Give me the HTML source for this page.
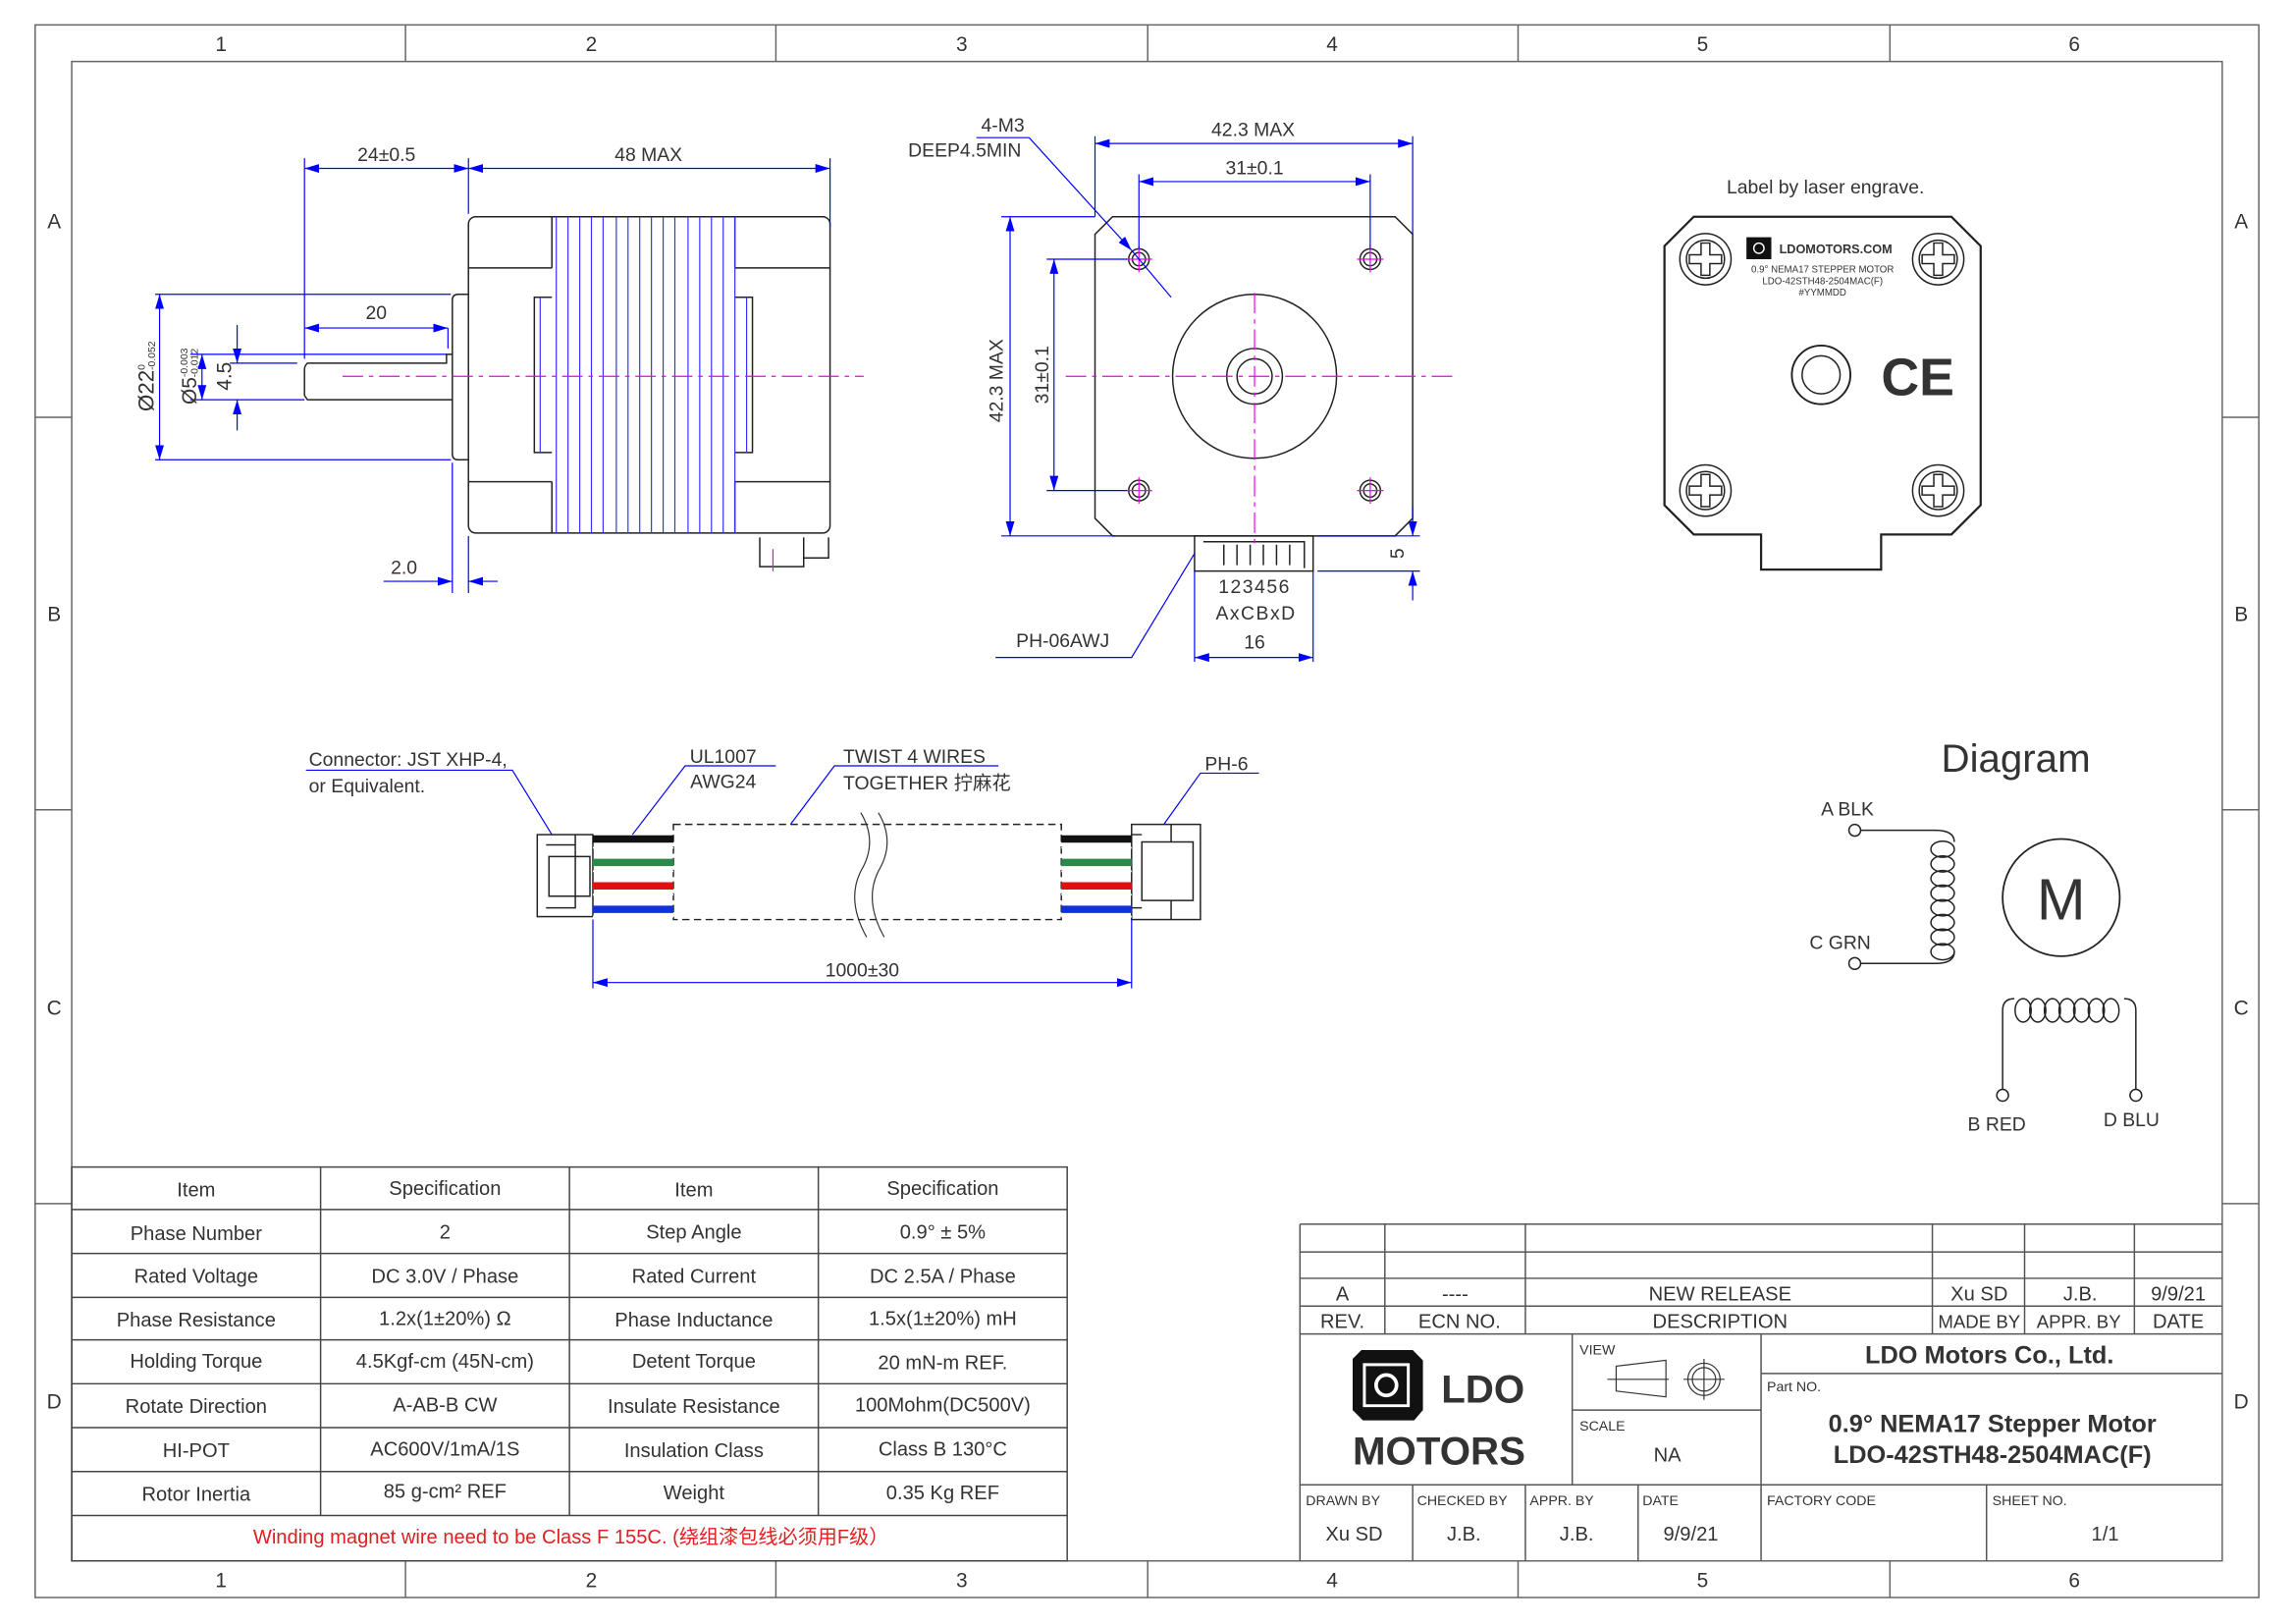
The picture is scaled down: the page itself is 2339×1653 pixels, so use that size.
<!DOCTYPE html>
<html><head><meta charset="utf-8"><style>
html,body{margin:0;padding:0;background:#fff;}
svg{display:block;}
text{font-family:"Liberation Sans","Noto Sans CJK SC",sans-serif;fill:#333;}
</style></head><body>
<svg width="2339" height="1653" viewBox="0 0 1568.4 1108.4" xmlns="http://www.w3.org/2000/svg">
<defs>
<marker id="a" viewBox="0 0 10 6" refX="10" refY="3" markerWidth="10" markerHeight="6" markerUnits="userSpaceOnUse" orient="auto-start-reverse"><path d="M0,0L10,3L0,6z" fill="#00f"/></marker>
<g id="sc" fill="none" stroke="#222" stroke-width="1"><circle cx="0" cy="0" r="17.5"/><circle cx="0" cy="0" r="13"/><path d="M-3,-11H3V-3H11V3H3V11H-3V3H-11V-3H-3Z"/></g>
</defs>
<rect x="0" y="0" width="1568.4" height="1108.4" fill="#fff"/>
<!-- frame -->
<g fill="none" stroke="#666" stroke-width="1">
<rect x="24" y="17" width="1519" height="1074"/>
<rect x="49" y="42" width="1469" height="1024"/>
<path d="M277,17V42M530,17V42M784,17V42M1037,17V42M1291,17V42M277,1066V1091M530,1066V1091M784,1066V1091M1037,1066V1091M1291,1066V1091M24,285H49M24,553H49M24,822H49M1518,285H1543M1518,553H1543M1518,822H1543"/>
</g>
<g font-size="14" text-anchor="middle" fill="#444">
<text x="151" y="35">1</text><text x="404" y="35">2</text><text x="657" y="35">3</text><text x="910" y="35">4</text><text x="1163" y="35">5</text><text x="1417" y="35">6</text>
<text x="151" y="1084">1</text><text x="404" y="1084">2</text><text x="657" y="1084">3</text><text x="910" y="1084">4</text><text x="1163" y="1084">5</text><text x="1417" y="1084">6</text>
<text x="37" y="156">A</text><text x="37" y="424">B</text><text x="37" y="693">C</text><text x="37" y="962">D</text>
<text x="1531" y="156">A</text><text x="1531" y="424">B</text><text x="1531" y="693">C</text><text x="1531" y="962">D</text>
</g>

<!-- SIDE VIEW -->
<g fill="none" stroke="#222" stroke-width="1">
<rect x="320" y="148" width="247" height="216" rx="5"/>
<path d="M320,183H377M320,329H377M502,183H567M502,329H567"/>
<path d="M377,148V183M377,329V364M502,148V183M502,329V364"/>
<path d="M377,203H365V309H377M502,203H514V309H502"/>
<path d="M320,201H313Q309,201 309,205V310Q309,314 313,314H320"/>
<path d="M309,242H305V248H210Q208,250 208,252V270L210,273H309"/>
<path d="M519,367V387H549V367M549,367V381H566V367"/>
</g>
<g stroke="#33f" stroke-width="0.8">
<path d="M380,148V364M388,148V364M396,148V364M404,148V364M412,148V364M421,148V364M429,148V364M437,148V364M445,148V364M453,148V364M461,148V364M470,148V364M478,148V364M486,148V364M494,148V364M502,148V364M369,203V309M510,203V309"/>
</g>
<path d="M234,257H590" stroke="#e0e" stroke-width="0.8" stroke-dasharray="14,4,3,4"/>
<path d="M528,375V390" stroke="#e0e" stroke-width="0.8"/>
<g stroke="#00f" stroke-width="0.8" fill="none">
<path d="M208,108V245M320,108V146M567,108V155"/>
<path d="M208,115H320" marker-start="url(#a)" marker-end="url(#a)"/>
<path d="M320,115H567" marker-start="url(#a)" marker-end="url(#a)"/>
<path d="M106,201H308M106,314H308"/>
<path d="M109,201V314" marker-start="url(#a)" marker-end="url(#a)"/>
<path d="M130,242H305M130,273H208"/>
<path d="M138,242V273" marker-start="url(#a)" marker-end="url(#a)"/>
<path d="M157,248H203"/>
<path d="M162,222V248" marker-end="url(#a)"/>
<path d="M162,294V273" marker-end="url(#a)"/>
<path d="M208,224H306" marker-start="url(#a)" marker-end="url(#a)"/>
<path d="M306,224V238"/>
<path d="M309,316V405M320,366V405"/>
<path d="M262,397H309" marker-end="url(#a)"/>
<path d="M340,397H320" marker-end="url(#a)"/>
</g>
<g font-size="13" text-anchor="middle">
<text x="264" y="110">24±0.5</text>
<text x="443" y="110">48 MAX</text>
<text x="257" y="218">20</text>
<text x="276" y="392">2.0</text>
<text transform="translate(105,257) rotate(-90)" font-size="15">Ø22<tspan font-size="7" dy="-6">0</tspan><tspan font-size="7" dx="-4" dy="7">-0.052</tspan></text>
<text transform="translate(134,257) rotate(-90)" font-size="14">Ø5<tspan font-size="7" dy="-6">-0.003</tspan><tspan font-size="7" dx="-20" dy="7">-0.012</tspan></text>
<text transform="translate(158,257) rotate(-90)" font-size="14">4.5</text>
</g>

<!-- FRONT VIEW -->
<g fill="none" stroke="#222" stroke-width="1">
<path d="M760,148H953L965,160V354L953,366H760L748,354V160Z"/>
<circle cx="857" cy="257" r="56"/>
<circle cx="857" cy="257" r="19"/>
<circle cx="857" cy="257" r="12"/>
<circle cx="778" cy="177" r="7"/><circle cx="936" cy="177" r="7"/><circle cx="778" cy="335" r="7"/><circle cx="936" cy="335" r="7"/>
<circle cx="778" cy="177" r="4.5"/><circle cx="936" cy="177" r="4.5"/><circle cx="778" cy="335" r="4.5"/><circle cx="936" cy="335" r="4.5"/>
<rect x="816" y="366" width="81" height="24"/>
<path d="M822,370H891V388M836,372V386M845,372V386M854,372V386M863,372V386M872,372V386M881,372V386"/>
</g>
<g stroke="#e0e" stroke-width="0.8" fill="none">
<path d="M728,257H992" stroke-dasharray="14,4,3,4"/>
<path d="M857,200V372" stroke-dasharray="14,4,3,4"/>
<path d="M769,177H787M778,168V186M927,177H945M936,168V186M769,335H787M778,326V344M927,335H945M936,326V344"/>
</g>
<g stroke="#00f" stroke-width="0.8" fill="none">
<path d="M748,93V148M965,93V160M778,119V170M936,119V170"/>
<path d="M748,98H965" marker-start="url(#a)" marker-end="url(#a)"/>
<path d="M778,124H936" marker-start="url(#a)" marker-end="url(#a)"/>
<path d="M684,148H748M684,366H762M715,177H770M715,335H770"/>
<path d="M690,148V366" marker-start="url(#a)" marker-end="url(#a)"/>
<path d="M720,177V335" marker-start="url(#a)" marker-end="url(#a)"/>
<path d="M667,94H703" />
<path d="M703,94L773,171" marker-end="url(#a)"/>
<path d="M773,171L800,203"/>
<path d="M816,390V452M897,390V452"/>
<path d="M816,449H897" marker-start="url(#a)" marker-end="url(#a)"/>
<path d="M900,366H970M900,390H970"/>
<path d="M965,346V366" marker-end="url(#a)"/>
<path d="M965,410V390" marker-end="url(#a)"/>
<path d="M680,449H773L816,378"/>
</g>
<g font-size="13" text-anchor="middle">
<text x="856" y="93">42.3 MAX</text>
<text x="857" y="119">31±0.1</text>
<text transform="translate(685,260) rotate(-90)">42.3 MAX</text>
<text transform="translate(716,256) rotate(-90)">31±0.1</text>
<text x="685" y="90">4-M3</text>
<text x="659" y="107">DEEP4.5MIN</text>
<text x="857" y="405" letter-spacing="1">123456</text>
<text x="858" y="423" letter-spacing="1">AxCBxD</text>
<text x="857" y="443">16</text>
<text transform="translate(959,378) rotate(-90)">5</text>
<text x="726" y="442">PH-06AWJ</text>
</g>

<!-- LABEL VIEW -->
<text x="1247" y="132" font-size="13" text-anchor="middle">Label by laser engrave.</text>
<g fill="none" stroke="#222" stroke-width="1.5">
<path d="M1157,148H1333L1353,168V345L1333,365H1285V389H1203V365H1157L1137,345V168Z"/>
</g>
<use href="#sc" x="1165" y="177"/><use href="#sc" x="1324" y="177"/><use href="#sc" x="1165" y="335"/><use href="#sc" x="1324" y="335"/>
<g fill="none" stroke="#222" stroke-width="1">
<circle cx="1244" cy="256" r="20" stroke-width="1.3"/><circle cx="1244" cy="256" r="13"/>
</g>
<text x="1310" y="270" font-size="36" font-weight="bold" text-anchor="middle" fill="#111">CE</text>
<rect x="1193" y="162" width="17" height="15" fill="#111"/>
<circle cx="1201.5" cy="169.5" r="3.5" fill="none" stroke="#fff" stroke-width="1"/>
<text x="1254" y="173" font-size="8.5" font-weight="bold" text-anchor="middle" fill="#111">LDOMOTORS.COM</text>
<g font-size="6.5" text-anchor="middle" fill="#222">
<text x="1245" y="186">0.9° NEMA17 STEPPER MOTOR</text>
<text x="1245" y="194">LDO-42STH48-2504MAC(F)</text>
<text x="1245" y="202">#YYMMDD</text>
</g>

<!-- CABLE -->
<g fill="none" stroke="#222" stroke-width="1">
<rect x="367" y="570" width="38" height="56"/>
<path d="M373,577H393V620H373M393,577V570M375,585H403V612H375Z"/>
<rect x="773" y="563" width="47" height="65"/>
<path d="M780,575H815V615H780ZM773,570H780M773,620H780M800,563V575M800,615V628"/>
</g>
<path d="M460,563H725V628H460Z" fill="none" stroke="#222" stroke-width="1" stroke-dasharray="5,3"/>
<path d="M588,555Q600,575 588,595Q578,615 592,640M600,555Q612,575 600,595Q590,615 604,640" fill="none" stroke="#333" stroke-width="0.8"/>
<g stroke-width="5">
<path d="M405,573H460M725,573H773" stroke="#111"/>
<path d="M405,589H460M725,589H773" stroke="#2a8a4a"/>
<path d="M405,605H460M725,605H773" stroke="#e01010"/>
<path d="M405,621H460M725,621H773" stroke="#1030e0"/>
</g>
<g stroke="#fff" stroke-width="1.2">
<path d="M405,579H460M725,579H773M405,595H460M725,595H773M405,611H460M725,611H773M405,626H460M725,626H773"/>
</g>
<g stroke="#00f" stroke-width="0.8" fill="none">
<path d="M209,526H350L377,570"/>
<path d="M530,523H468L432,570"/>
<path d="M682,523H570L540,563"/>
<path d="M860,528H820L795,563"/>
<path d="M405,628V675M773,628V675"/>
<path d="M405,671H773" marker-start="url(#a)" marker-end="url(#a)"/>
</g>
<g font-size="13">
<text x="211" y="523">Connector: JST XHP-4,</text>
<text x="211" y="541">or Equivalent.</text>
<text x="494" y="521" text-anchor="middle">UL1007</text>
<text x="494" y="538" text-anchor="middle">AWG24</text>
<text x="576" y="521">TWIST 4 WIRES</text>
<text x="576" y="539">TOGETHER 拧麻花</text>
<text x="823" y="526">PH-6</text>
<text x="589" y="667" text-anchor="middle">1000±30</text>
</g>

<!-- DIAGRAM -->
<text x="1377" y="527" font-size="27" text-anchor="middle" fill="#222">Diagram</text>
<g font-size="13" text-anchor="middle">
<text x="1262" y="557">A BLK</text>
<text x="1257" y="648">C GRN</text>
<text x="1364" y="772">B RED</text>
<text x="1456" y="769">D BLU</text>
</g>
<g fill="none" stroke="#222" stroke-width="1">
<circle cx="1267" cy="567" r="4"/><circle cx="1267" cy="658" r="4"/>
<circle cx="1368" cy="748" r="4"/><circle cx="1459" cy="748" r="4"/>
<path d="M1271,567H1322Q1335,567 1335,575"/>
<path d="M1271,658H1322Q1335,658 1335,650"/>
<ellipse cx="1327" cy="580" rx="8" ry="5.5"/><ellipse cx="1327" cy="590" rx="8" ry="5.5"/><ellipse cx="1327" cy="600" rx="8" ry="5.5"/><ellipse cx="1327" cy="610" rx="8" ry="5.5"/><ellipse cx="1327" cy="620" rx="8" ry="5.5"/><ellipse cx="1327" cy="630" rx="8" ry="5.5"/><ellipse cx="1327" cy="640" rx="8" ry="5.5"/><ellipse cx="1327" cy="650" rx="8" ry="5.5"/>
<path d="M1368,744V690Q1368,682 1376,682M1459,744V690Q1459,682 1451,682"/>
<ellipse cx="1382" cy="690" rx="5.5" ry="8"/><ellipse cx="1392" cy="690" rx="5.5" ry="8"/><ellipse cx="1402" cy="690" rx="5.5" ry="8"/><ellipse cx="1412" cy="690" rx="5.5" ry="8"/><ellipse cx="1422" cy="690" rx="5.5" ry="8"/><ellipse cx="1432" cy="690" rx="5.5" ry="8"/><ellipse cx="1442" cy="690" rx="5.5" ry="8"/>
<circle cx="1408" cy="613" r="40" stroke-width="1.2"/>
</g>
<text x="1408" y="628" font-size="40" text-anchor="middle" fill="#222">M</text>

<!-- SPEC TABLE -->
<g fill="none" stroke="#444" stroke-width="1">
<rect x="49" y="797" width="680" height="269"/>
<path d="M49,826H729M49,856H729M49,886H729M49,915H729M49,945H729M49,975H729M49,1005H729M49,1035H729"/>
<path d="M219,797V1035M389,797V1035M559,797V1035"/>
</g>
<g font-size="13.5" text-anchor="middle">
<text x="134" y="817">Item</text><text x="304" y="816">Specification</text><text x="474" y="817">Item</text><text x="644" y="816">Specification</text>
<text x="134" y="847">Phase Number</text><text x="304" y="846">2</text><text x="474" y="846">Step Angle</text><text x="644" y="846">0.9° ± 5%</text>
<text x="134" y="876">Rated Voltage</text><text x="304" y="876">DC 3.0V / Phase</text><text x="474" y="876">Rated Current</text><text x="644" y="876">DC 2.5A / Phase</text>
<text x="134" y="906">Phase Resistance</text><text x="304" y="905">1.2x(1±20%) Ω</text><text x="474" y="906">Phase Inductance</text><text x="644" y="905">1.5x(1±20%) mH</text>
<text x="134" y="934">Holding Torque</text><text x="304" y="934">4.5Kgf-cm (45N-cm)</text><text x="474" y="934">Detent Torque</text><text x="644" y="935">20 mN-m REF.</text>
<text x="134" y="965">Rotate Direction</text><text x="304" y="964">A-AB-B CW</text><text x="474" y="965">Insulate Resistance</text><text x="644" y="964">100Mohm(DC500V)</text>
<text x="134" y="995">HI-POT</text><text x="304" y="994">AC600V/1mA/1S</text><text x="474" y="995">Insulation Class</text><text x="644" y="994">Class B 130°C</text>
<text x="134" y="1025">Rotor Inertia</text><text x="304" y="1023">85 g-cm² REF</text><text x="474" y="1024">Weight</text><text x="644" y="1024">0.35 Kg REF</text>
<text x="390" y="1054" style="fill:#e02020">Winding magnet wire need to be Class F 155C. (绕组漆包线必须用F级）</text>
</g>

<!-- TITLE BLOCK -->
<g fill="none" stroke="#555" stroke-width="1">
<path d="M888,836H1518M888,855H1518M888,873H1518M888,892H1518M888,911H1518M888,836V1066"/>
<path d="M946,836V911M1042,836V911M1320,836V911M1383,836V911M1458,836V911"/>
<path d="M1074,911V1014M1203,911V1066M1074,963H1203M1203,938H1518M888,1014H1518"/>
<path d="M965,1014V1066M1042,1014V1066M1119,1014V1066M1357,1014V1066"/>
</g>
<g font-size="13.5" text-anchor="middle">
<text x="917" y="888">A</text><text x="994" y="888">----</text><text x="1175" y="888">NEW RELEASE</text><text x="1352" y="888">Xu SD</text><text x="1421" y="888">J.B.</text><text x="1488" y="888">9/9/21</text>
<text x="917" y="907">REV.</text><text x="997" y="907">ECN NO.</text><text x="1175" y="907">DESCRIPTION</text><text x="1352" y="907" font-size="12.5">MADE BY</text><text x="1420" y="907" font-size="12.5">APPR. BY</text><text x="1488" y="907">DATE</text>
<text x="1139" y="998">NA</text>
<text x="925" y="1052">Xu SD</text><text x="1000" y="1052">J.B.</text><text x="1077" y="1052">J.B.</text><text x="1155" y="1052">9/9/21</text><text x="1438" y="1052">1/1</text>
</g>
<g font-size="9.5" fill="#444">
<text x="1079" y="925">VIEW</text><text x="1079" y="977">SCALE</text><text x="1207" y="950">Part NO.</text>
<text x="892" y="1028">DRAWN BY</text><text x="968" y="1028">CHECKED BY</text><text x="1045" y="1028">APPR. BY</text><text x="1122" y="1028">DATE</text><text x="1207" y="1028">FACTORY CODE</text><text x="1361" y="1028">SHEET NO.</text>
</g>
<g fill="none" stroke="#333" stroke-width="0.8">
<path d="M1104,933L1138,929V954L1104,950ZM1098,942H1140"/>
<circle cx="1164" cy="942" r="11"/><circle cx="1164" cy="942" r="8"/><path d="M1150,942H1178M1164,928V956"/>
</g>
<text x="1359" y="931" font-size="17" font-weight="bold" text-anchor="middle" fill="#111">LDO Motors Co., Ltd.</text>
<text x="1361" y="978" font-size="17" font-weight="bold" text-anchor="middle" fill="#111">0.9° NEMA17 Stepper Motor</text>
<text x="1361" y="999" font-size="17" font-weight="bold" text-anchor="middle" fill="#111">LDO-42STH48-2504MAC(F)</text>
<!-- logo -->
<path d="M924,928L930,922H965L972,929V963L966,970H931L924,963Z" fill="#111"/>
<path d="M932,932H962V960H932Z" fill="none" stroke="#fff" stroke-width="2"/>
<circle cx="947" cy="946" r="7" fill="none" stroke="#fff" stroke-width="2.5"/>
<text x="1013" y="958" font-size="27" font-weight="bold" text-anchor="middle" fill="#111">LDO</text>
<text x="983" y="1000" font-size="27" font-weight="bold" text-anchor="middle" fill="#111">MOTORS</text>
</svg>
</body></html>
